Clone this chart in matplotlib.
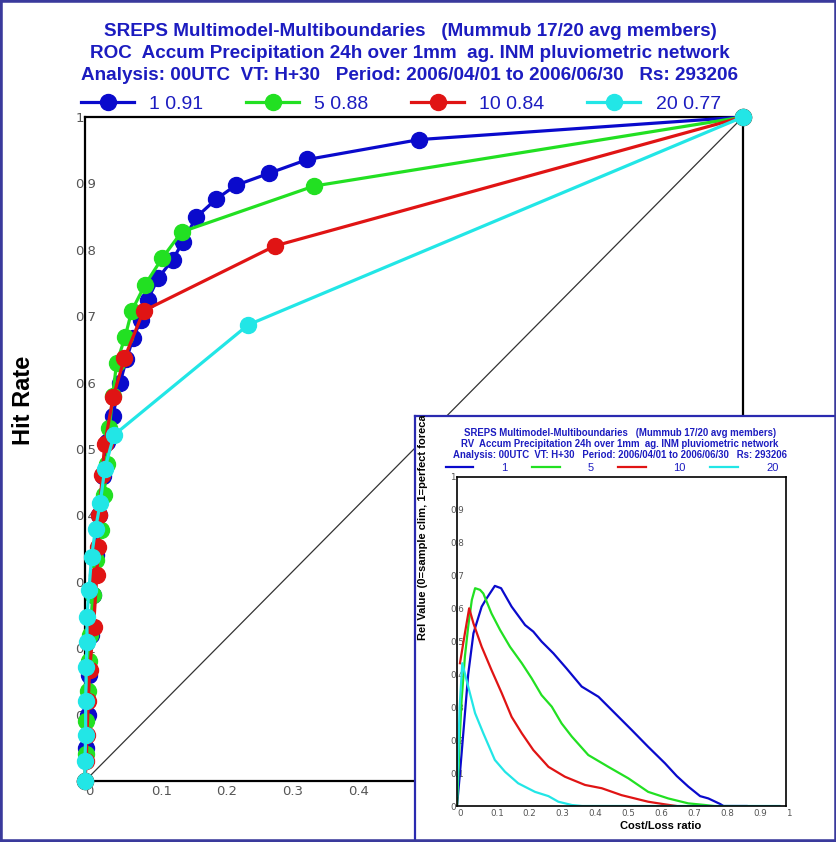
import matplotlib
matplotlib.use('Agg')
import matplotlib.pyplot as plt
from matplotlib.patches import Rectangle

SANS = ['Liberation Sans', 'DejaVu Sans']
TITLE_BLUE = '#1c1cc0'

thresholds = ['1', '5', '10', '20']
roc_area = ['0.91', '0.88', '0.84', '0.77']
colors = ['#0a0acc', '#22e022', '#e01414', '#22e6e6']

# ROC points: false alarm rate / hit rate, one list per threshold (mm)
far_1 = [0.0, 0.002, 0.004, 0.006, 0.009, 0.012, 0.016, 0.021, 0.027, 0.034, 0.042,
         0.053, 0.063, 0.073, 0.085, 0.095, 0.111, 0.133, 0.149, 0.169, 0.199,
         0.229, 0.279, 0.338, 0.508, 1.0]
hit_1 = [0.0, 0.05, 0.10, 0.16, 0.22, 0.28, 0.34, 0.40, 0.46, 0.51, 0.549,
         0.599, 0.635, 0.667, 0.694, 0.724, 0.757, 0.785, 0.812, 0.849, 0.876,
         0.897, 0.915, 0.936, 0.966, 1.0]
far_5 = [0.0, 0.001, 0.002, 0.004, 0.006, 0.008, 0.012, 0.017, 0.025, 0.029, 0.033,
         0.037, 0.042, 0.048, 0.061, 0.071, 0.091, 0.117, 0.147, 0.348, 1.0]
hit_5 = [0.0, 0.04, 0.09, 0.136, 0.18, 0.22, 0.28, 0.333, 0.378, 0.43, 0.478,
         0.531, 0.58, 0.629, 0.669, 0.708, 0.747, 0.787, 0.827, 0.896, 1.0]
far_10 = [0.0, 0.002, 0.003, 0.005, 0.007, 0.013, 0.018, 0.020, 0.022, 0.026, 0.030,
          0.043, 0.060, 0.089, 0.289, 1.0]
hit_10 = [0.0, 0.03, 0.069, 0.12, 0.167, 0.232, 0.31, 0.353, 0.40, 0.461, 0.508,
          0.579, 0.637, 0.708, 0.806, 1.0]
far_20 = [0.0, 0.0, 0.001, 0.001, 0.002, 0.003, 0.003, 0.006, 0.010, 0.016, 0.023,
          0.030, 0.044, 0.248, 1.0]
hit_20 = [0.0, 0.03, 0.07, 0.12, 0.172, 0.21, 0.247, 0.288, 0.338, 0.38, 0.418,
          0.47, 0.521, 0.687, 1.0]

# Relative value vs cost/loss ratio
cl_1 = [0.0, 0.009, 0.019, 0.034, 0.05, 0.075, 0.09, 0.115, 0.134, 0.166, 0.207,
        0.232, 0.257, 0.293, 0.333, 0.379, 0.43, 0.48, 0.531, 0.581, 0.632,
        0.668, 0.703, 0.739, 0.764, 0.80, 0.81, 0.88]
rv_1 = [0.0, 0.10, 0.22, 0.40, 0.525, 0.606, 0.631, 0.669, 0.662, 0.606, 0.55,
        0.53, 0.50, 0.464, 0.418, 0.363, 0.332, 0.282, 0.231, 0.18, 0.13,
        0.091, 0.059, 0.030, 0.023, 0.006, 0.0, 0.0]
cl_5 = [0.0, 0.009, 0.014, 0.024, 0.034, 0.045, 0.055, 0.07, 0.08, 0.105, 0.131,
        0.161, 0.197, 0.227, 0.257, 0.288, 0.318, 0.349, 0.399, 0.46, 0.521,
        0.581, 0.642, 0.703, 0.754, 0.78]
rv_5 = [0.0, 0.22, 0.322, 0.454, 0.545, 0.626, 0.662, 0.657, 0.646, 0.585, 0.535,
        0.484, 0.434, 0.388, 0.337, 0.302, 0.251, 0.211, 0.155, 0.119, 0.084,
        0.043, 0.023, 0.008, 0.003, 0.0]
cl_10 = [0.009, 0.024, 0.037, 0.05, 0.075, 0.105, 0.136, 0.166, 0.197, 0.232,
         0.278, 0.328, 0.389, 0.44, 0.50, 0.581, 0.632, 0.667]
rv_10 = [0.434, 0.525, 0.601, 0.555, 0.484, 0.413, 0.343, 0.271, 0.221, 0.17,
         0.119, 0.089, 0.064, 0.054, 0.033, 0.013, 0.005, 0.0]
cl_20 = [0.0, 0.008, 0.016, 0.034, 0.055, 0.08, 0.115, 0.146, 0.186, 0.237,
         0.278, 0.308, 0.349, 0.38, 0.98]
rv_20 = [0.03, 0.30, 0.434, 0.363, 0.282, 0.221, 0.14, 0.104, 0.069, 0.043,
         0.030, 0.013, 0.003, 0.0, 0.0]

roc_far = [far_1, far_5, far_10, far_20]
roc_hit = [hit_1, hit_5, hit_10, hit_20]
rv_x = [cl_1, cl_5, cl_10, cl_20]
rv_y = [rv_1, rv_5, rv_10, rv_20]

ticks = [0, 0.1, 0.2, 0.3, 0.4, 0.5, 0.6, 0.7, 0.8, 0.9, 1]
tick_labels = ['0', '0.1', '0.2', '0.3', '0.4', '0.5', '0.6', '0.7', '0.8', '0.9', '1']

fig = plt.figure(figsize=(8.37, 8.42), dpi=100)
fig.patch.set_facecolor('white')

# ---- main ROC panel ----
ax = fig.add_axes([85 / 837, 61 / 842, 658 / 837, 664 / 842])
ax.set_xlim(0, 1)
ax.set_ylim(0, 1)
ax.plot([0, 1], [0, 1], color='#333333', lw=0.9, zorder=2)
handles = []
for far, hit, c, t, a in zip(roc_far, roc_hit, colors, thresholds, roc_area):
    h, = ax.plot(far, hit, color=c, lw=2.3, marker='o', ms=11.5, mec=c,
                 clip_on=False, zorder=3, label=f'{t} {a}')
    handles.append(h)
for s in ax.spines.values():
    s.set_linewidth(1.6)
ax.set_xticks(ticks, tick_labels)
ax.set_yticks(ticks, tick_labels)
ax.tick_params(length=0, labelsize=9.5, labelcolor='#555555')
ax.tick_params(axis='y', pad=7)
ax.tick_params(axis='x', pad=3)
for lab in ax.get_xticklabels():
    lab.set_horizontalalignment('left')
for lab in ax.get_yticklabels():
    lab.set_horizontalalignment('left')

fig.text(24 / 837, 1 - 400 / 842, 'Hit Rate', rotation=90, ha='center', va='center',
         fontsize=17, fontweight='bold', family=SANS)

titles = ['SREPS Multimodel-Multiboundaries   (Mummub 17/20 avg members)',
          'ROC  Accum Precipitation 24h over 1mm  ag. INM pluviometric network',
          'Analysis: 00UTC  VT: H+30   Period: 2006/04/01 to 2006/06/30   Rs: 293206']
for i, line in enumerate(titles):
    fig.text(410 / 837, 1 - (31 + 22 * i) / 842, line, ha='center', va='center',
             fontsize=13.6, fontweight='bold', color=TITLE_BLUE, family=SANS)

fig.legend(handles=handles, loc='center', bbox_to_anchor=(401 / 837, 1 - 104 / 842),
           ncol=4, frameon=False, handlelength=2.7, handletextpad=0.8,
           columnspacing=2.2, labelcolor=TITLE_BLUE,
           prop={'family': SANS, 'size': 14})

# ---- inset panel (relative value) ----
panel = fig.add_axes([415 / 837, 0.0, 422 / 837, (842 - 416) / 842], zorder=5)
panel.set_facecolor('white')
panel.set_xticks([])
panel.set_yticks([])
for s in panel.spines.values():
    s.set_color('#2a2ab0')
    s.set_linewidth(1.6)

panel.text(8 / 422, (842 - 640) / 426, 'Rel Value (0=sample clim, 1=perfect forecast)',
           transform=panel.transAxes, rotation=90, ha='center', va='bottom',
           fontsize=8, fontweight='bold', clip_on=True, family=SANS)

sub_titles = ['SREPS Multimodel-Multiboundaries   (Mummub 17/20 avg members)',
              'RV  Accum Precipitation 24h over 1mm  ag. INM pluviometric network',
              'Analysis: 00UTC  VT: H+30   Period: 2006/04/01 to 2006/06/30   Rs: 293206']
for i, line in enumerate(sub_titles):
    fig.text(620 / 837, 1 - (433 + 10.8 * i) / 842, line, ha='center', va='center',
             fontsize=6.9, fontweight='bold', color=TITLE_BLUE, zorder=10, family=SANS)

ax2 = fig.add_axes([457 / 837, 36 / 842, 329 / 837, 329 / 842], zorder=6)
ax2.set_xlim(0, 1)
ax2.set_ylim(0, 1)
rv_handles = []
for x, y, c, t in zip(rv_x, rv_y, colors, thresholds):
    h, = ax2.plot(x, y, color=c, lw=1.6, label=t)
    rv_handles.append(h)
for s in ax2.spines.values():
    s.set_linewidth(1.2)
ax2.set_xticks(ticks, tick_labels)
ax2.set_yticks(ticks, tick_labels)
ax2.tick_params(length=0, labelsize=6.3, labelcolor='#555555')
ax2.tick_params(axis='y', pad=5)
ax2.tick_params(axis='x', pad=2)
for lab in ax2.get_xticklabels():
    lab.set_horizontalalignment('left')
for lab in ax2.get_yticklabels():
    lab.set_horizontalalignment('left')
ax2.set_xlabel('Cost/Loss ratio', fontsize=8, fontweight='bold', labelpad=3, family=SANS)
ax2.xaxis.set_label_coords(0.62, -0.045)

leg2 = fig.legend(handles=rv_handles, loc='center', bbox_to_anchor=(612 / 837, 1 - 468 / 842),
                  ncol=4, frameon=False, handlelength=2.5, handletextpad=2.5,
                  columnspacing=2.2, labelcolor=TITLE_BLUE,
                  prop={'family': SANS, 'size': 8})
leg2.set_zorder(10)

fig.patches.append(Rectangle((0, 0), 1, 1, transform=fig.transFigure, fill=False,
                             ec='#3a3a9c', lw=4, zorder=20))

plt.savefig('out.png', dpi=100)
plt.close()
